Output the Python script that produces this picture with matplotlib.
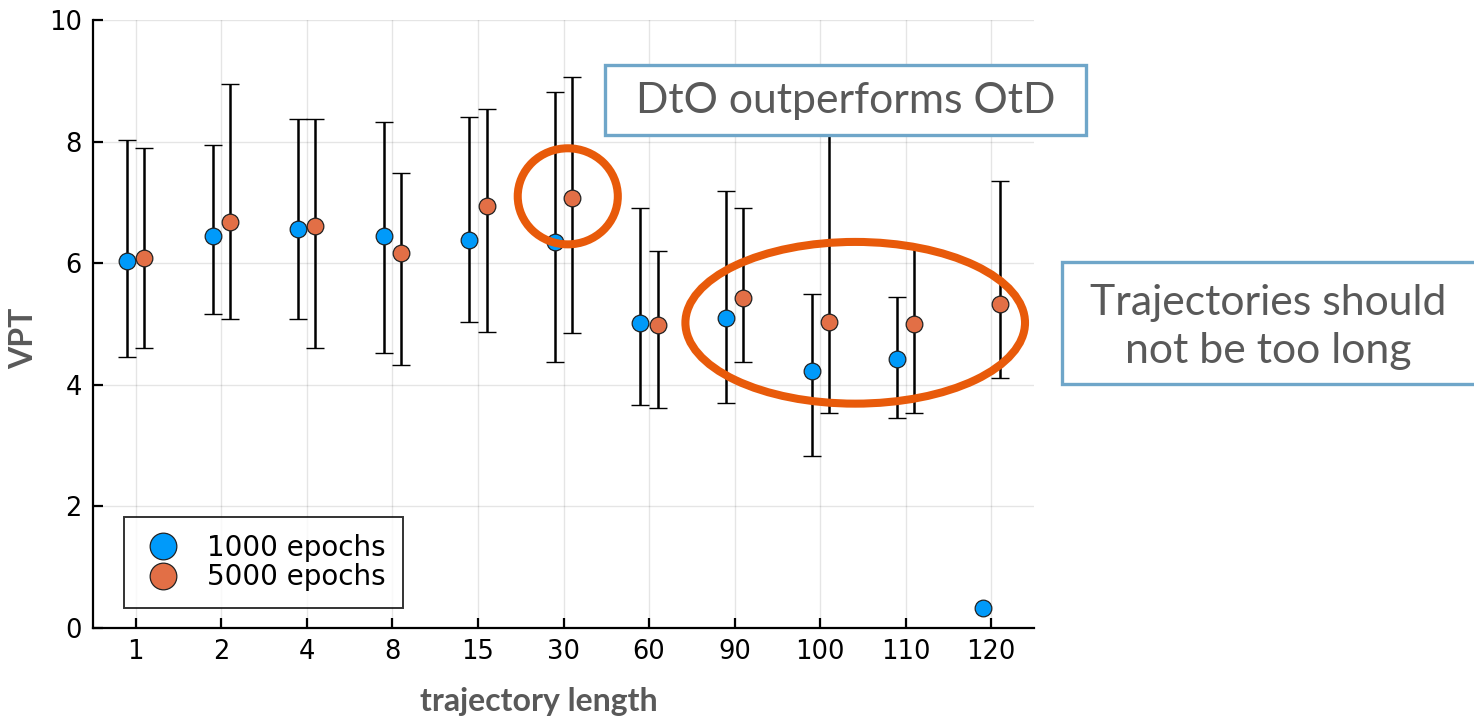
import numpy as np
import matplotlib
matplotlib.use("Agg")
import matplotlib.pyplot as plt
from matplotlib.patches import Ellipse, Rectangle

# VPT per trajectory length, mean with lower / upper bounds
lengths = ["1", "2", "4", "8", "15", "30", "60", "90", "100", "110", "120"]

vpt_1000 = [6.04, 6.44, 6.57, 6.44, 6.38, 6.35, 5.01, 5.10, 4.22, 4.42, 0.33]
low_1000 = [4.45, 5.16, 5.08, 4.53, 5.03, 4.37, 3.67, 3.70, 2.83, 3.45, np.nan]
high_1000 = [8.03, 7.94, 8.37, 8.33, 8.41, 8.82, 6.90, 7.19, 5.49, 5.45, np.nan]

vpt_5000 = [6.09, 6.68, 6.61, 6.17, 6.94, 7.08, 4.99, 5.42, 5.04, 5.00, 5.33]
low_5000 = [4.61, 5.08, 4.61, 4.33, 4.87, 4.86, 3.62, 4.37, 3.54, 3.54, 4.12]
high_5000 = [7.90, 8.95, 8.37, 7.49, 8.53, 9.07, 6.20, 6.90, 8.90, 6.28, 7.36]

BLUE = "#009AFA"
ORANGE = "#E26F46"
HIGHLIGHT = "#E85A0A"
BOX_EDGE = "#6FA6C9"
GRAY_TEXT = "#595959"


def draw_series(ax, x, mean, low, high, color, label):
    mean = np.array(mean)
    yerr = [mean - np.array(low), np.array(high) - mean]
    ax.errorbar(x, mean, yerr=yerr, fmt="none", ecolor="black",
                elinewidth=1.8, capsize=6.5, capthick=1.0, zorder=2)
    ax.plot(x, mean, "o", ms=12, mfc=color, mec="#222222", mew=0.9,
            label=label, zorder=3)


def main():
    plt.rcParams["font.family"] = "DejaVu Sans"
    fig = plt.figure(figsize=(14.74, 7.2), dpi=100)
    ax = fig.add_axes([93 / 1474, 92 / 720, 941 / 1474, 608 / 720])

    pos = np.arange(len(lengths))
    draw_series(ax, pos - 0.1, vpt_1000, low_1000, high_1000, BLUE, "1000 epochs")
    draw_series(ax, pos + 0.1, vpt_5000, low_5000, high_5000, ORANGE, "5000 epochs")

    ax.set_xlim(-0.5, 10.5)
    ax.set_ylim(0, 10)
    ax.set_xticks(pos)
    ax.set_xticklabels(lengths)
    ax.set_yticks(np.arange(0, 11, 2))
    ax.grid(True, color="#000000", alpha=0.1, lw=1)
    ax.set_axisbelow(True)

    for side in ("top", "right"):
        ax.spines[side].set_visible(False)
    for side in ("left", "bottom"):
        ax.spines[side].set_linewidth(1.6)
    ax.tick_params(direction="in", length=7, width=1.6, labelsize=18.5, pad=8)

    ax.set_xlabel("trajectory length", family="Lato", weight="bold",
                  fontsize=23, color=GRAY_TEXT, va="center", ha="center")
    ax.set_ylabel("VPT", family="Lato", weight="bold", fontsize=23,
                  color=GRAY_TEXT, va="center", ha="center")
    ax.xaxis.set_label_coords(0.4735, -0.1217)
    ax.yaxis.set_label_coords(-0.0733, 0.477)

    leg = ax.legend(loc="lower left", bbox_to_anchor=(0.033, 0.033),
                    fontsize=20, markerscale=1.6, frameon=True, fancybox=False,
                    handletextpad=0.8, borderpad=0.6, labelspacing=0.05,
                    handlelength=1.6, borderaxespad=0)
    leg.get_frame().set_edgecolor("black")
    leg.get_frame().set_linewidth(1.4)

    # highlight rings around the points being discussed
    ax.add_patch(Ellipse((5.05, 7.1), 1.17, 1.58, fill=False,
                         ec=HIGHLIGHT, lw=5.8, zorder=4, clip_on=False))
    ax.add_patch(Ellipse((8.41, 5.02), 3.97, 2.66, fill=False,
                         ec=HIGHLIGHT, lw=5.8, zorder=4, clip_on=False))

    # callout boxes
    fig.patches.append(Rectangle((605 / 1474, 1 - 135 / 720), 481 / 1474, 70 / 720,
                                 transform=fig.transFigure, fc="white",
                                 ec=BOX_EDGE, lw=2.4, zorder=5))
    fig.text(846 / 1474, 1 - 101 / 720, "DtO outperforms OtD", family="Lato",
             fontsize=30.8, color=GRAY_TEXT, ha="center", va="center", zorder=6)

    fig.patches.append(Rectangle((1062 / 1474, 1 - 384 / 720), 430 / 1474, 122 / 720,
                                 transform=fig.transFigure, fc="white",
                                 ec=BOX_EDGE, lw=2.4, zorder=5))
    fig.text(1268 / 1474, 1 - 327 / 720, "Trajectories should\nnot be too long",
             family="Lato", fontsize=30.8, color=GRAY_TEXT, ha="center",
             va="center", linespacing=1.3, zorder=6)

    fig.savefig("out.png", dpi=100)


if __name__ == "__main__":
    main()
